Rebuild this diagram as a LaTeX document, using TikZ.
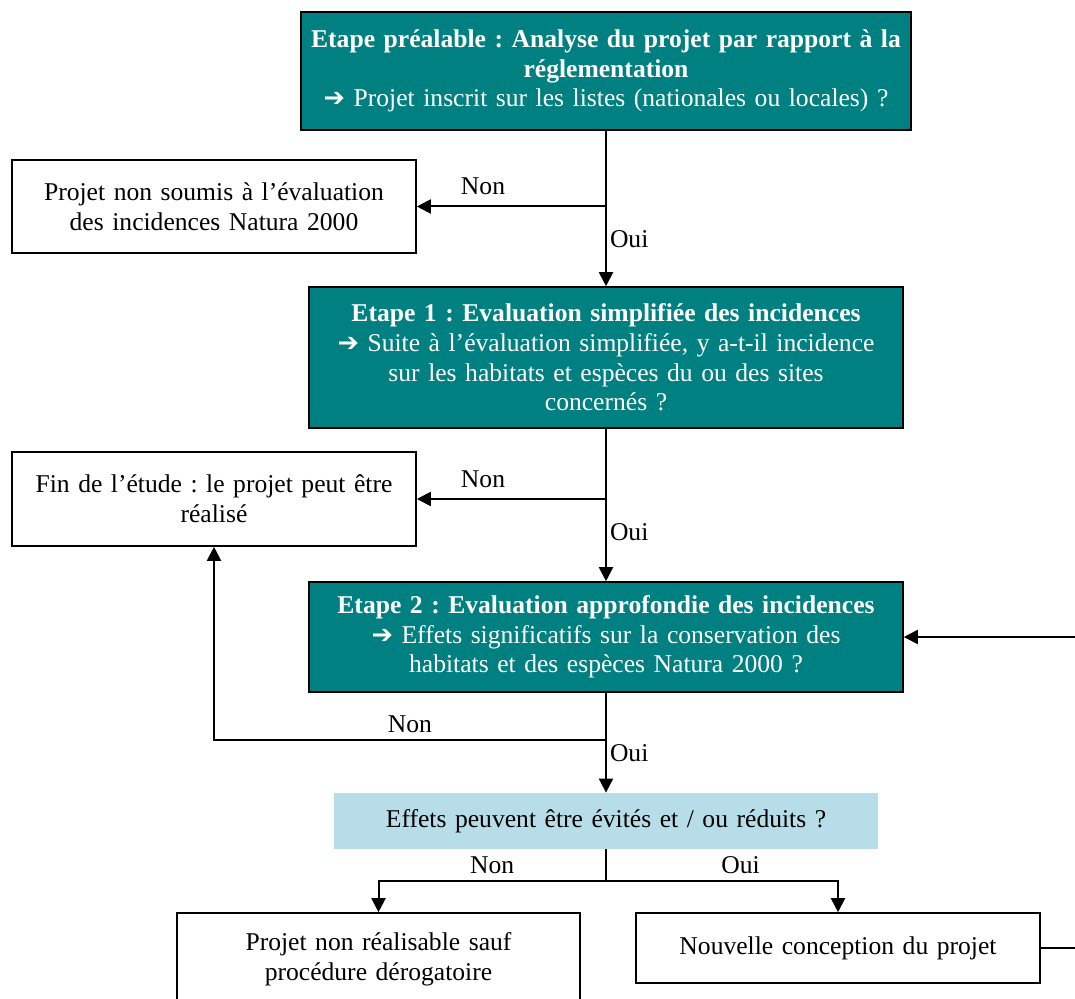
\documentclass[tikz,border=0pt]{standalone}
\usepackage{fontspec}
\setmainfont{Liberation Serif}
\usepackage{tikz}
\usetikzlibrary{arrows.meta}
\newfontfamily\arrowfont{DejaVu Sans}
\newcommand{\flechepuce}{{\arrowfont\bfseries ➔}\ }
\definecolor{vertcanard}{RGB}{0,128,128}
\definecolor{bleuclair}{RGB}{183,221,232}
\frenchspacing

\tikzset{
  etape/.style={draw, line width=0.8pt, fill=vertcanard, text=white, align=center, inner sep=0pt},
  issue/.style={draw, line width=0.8pt, fill=white, align=center, inner sep=0pt},
  question/.style={fill=bleuclair, align=center, inner sep=0pt},
  fleche/.style={-{Triangle[length=7pt, width=7pt]}, line width=1pt},
  choix/.style={inner sep=1.5pt}
}

\begin{document}
\begin{tikzpicture}[x=0.5pt, y=-0.5pt, font=\fontsize{12.8}{14.8}\selectfont\frenchspacing]
    \useasboundingbox (0,0) rectangle (1075,999);
    \clip (0,0) rectangle (1075,999);

    % Draw nodes
    \node[etape, minimum width=305pt, minimum height=59pt, text width=300pt] (pre) at (606,71)
        {\textbf{Etape préalable : Analyse du projet par rapport à la}\\ \textbf{réglementation}\\ \flechepuce Projet inscrit sur les listes (nationales ou locales) ?};
    \node[issue, minimum width=202pt, minimum height=46.5pt, text width=195pt] (nosub) at (214,206.5)
        {Projet non soumis à l’évaluation\\ des incidences Natura 2000};
    \node[etape, minimum width=297pt, minimum height=70.5pt, text width=290pt] (e1) at (606,357.5)
        {\textbf{Etape 1 : Evaluation simplifiée des incidences}\\ \flechepuce Suite à l’évaluation simplifiée, y a-t-il incidence\\ sur les habitats et espèces du ou des sites\\ concernés ?};
    \node[issue, minimum width=202pt, minimum height=47pt, text width=195pt] (fin) at (214,499)
        {Fin de l’étude : le projet peut être\\ réalisé};
    \node[etape, minimum width=297pt, minimum height=55pt, text width=290pt] (e2) at (606,637)
        {\textbf{Etape 2 : Evaluation approfondie des incidences}\\ \flechepuce Effets significatifs sur la conservation des\\ habitats et des espèces Natura 2000 ?};
    \node[question, minimum width=272pt, minimum height=28pt, text width=265pt] (q) at (606,821)
        {Effets peuvent être évités et / ou réduits ?};
    \node[issue, minimum width=201.5pt, minimum height=46.5pt, text width=195pt] (nonreal) at (378.5,959.5)
        {Projet non réalisable sauf\\ procédure dérogatoire};
    \node[issue, minimum width=202pt, minimum height=35pt, text width=195pt] (nouv) at (838,948)
        {Nouvelle conception du projet};

    % Draw connections
    \draw[fleche] (pre) -- (e1) node[choix, pos=0.7, right] {Oui};
    \draw[fleche] (pre.south |- nosub.east) -- (nosub.east) node[pos=0.65, above=2pt] {Non};
    \draw[fleche] (e1) -- (e2) node[choix, pos=0.68, right] {Oui};
    \draw[fleche] (e1.south |- fin.east) -- (fin.east) node[pos=0.65, above=2pt] {Non};
    \draw[fleche] (e2) -- (q) node[choix, pos=0.6, right] {Oui};
    \draw[fleche] (e2.south |- 0,740) -| (fin.south) node[pos=0.25, above] {Non};
    \draw[line width=1pt] (q.south) -- ++(0,32) coordinate (fourche);
    \draw[fleche] (fourche) -| (nonreal.north) node[pos=0.25, above] {Non};
    \draw[fleche] (fourche) -| (nouv.north) node[pos=0.29, above] {Oui};
    \draw[fleche] (nouv.east) -- ++(80,0) |- (e2.east);
\end{tikzpicture}
\end{document}
